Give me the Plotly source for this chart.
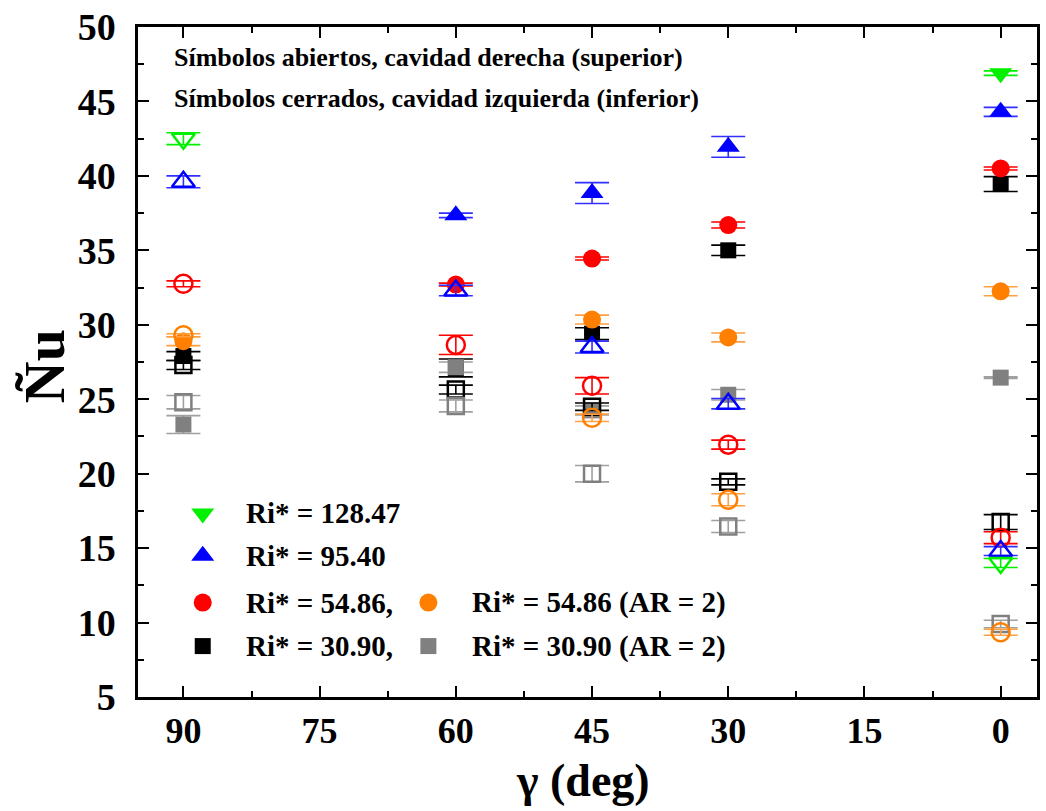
import plotly.graph_objects as go

# Inclination angle of the cavity (deg)
gamma = [90, 60, 45, 30, 0]

# Mean Nusselt number per case; None where no measurement was taken.
# "closed" = left (lower) cavity, "open" = right (upper) cavity.
nu_128_closed = [None, None, None, None, 46.9]
err_128_closed = [0, 0, 0, 0, 0.15]
nu_128_open = [42.5, None, None, None, 14.0]
err_128_open = [0.4, 0, 0, 0, 0.3]

nu_95_closed = [None, 37.35, 38.85, 41.95, 44.3]
err_95_closed = [0, 0.15, 0.7, 0.7, 0.3]
nu_95_open = [39.6, 32.3, 28.5, 24.7, 14.8]
err_95_open = [0.4, 0.35, 0.4, 0.35, 0.3]

nu_54_closed = [None, 32.7, 34.45, 36.7, 40.5]
err_54_closed = [0, 0.1, 0.1, 0.2, 0.1]
nu_54_open = [32.75, 28.65, 25.9, 21.95, 15.7]
err_54_open = [0.2, 0.65, 0.55, 0.3, 0.4]

nu_30_closed = [27.9, 27.1, 29.4, 35.0, 39.45]
err_30_closed = [0.3, 0.6, 0.4, 0.35, 0.5]
nu_30_open = [27.3, 25.65, 24.5, 19.45, 16.75]
err_30_open = [0.3, 0.3, 0.25, 0.2, 0.5]

nu_54ar_closed = [28.9, None, 30.35, 29.15, 32.25]
err_54ar_closed = [0.3, 0, 0.3, 0.3, 0.3]
nu_54ar_open = [29.3, None, 23.75, 18.25, 9.35]
err_54ar_open = [0.1, 0, 0.25, 0.4, 0.2]

nu_30ar_closed = [23.3, 27.15, 24.25, 25.3, 26.45]
err_30ar_closed = [0.6, 0.35, 0.3, 0.35, 0.05]
nu_30ar_open = [24.8, 24.55, 20.0, 16.45, 9.9]
err_30ar_open = [0.45, 0.4, 0.55, 0.4, 0.25]

legend_labels = ["Ri* = 128.47", "Ri* = 95.40", "Ri* = 54.86,", "Ri* = 30.90,",
                 "Ri* = 54.86 (AR = 2)", "Ri* = 30.90 (AR = 2)"]

FONT = "Liberation Serif"
GREEN, BLUE, RED, BLACK, ORANGE, GRAY = "#00f000", "#0000ff", "#ff0000", "#000000", "#ff8000", "#808080"

# (values, errors, colour, error colour, symbol, size) — filled symbols first,
# hollow ones on top so the error-bar stems show through them.
series = [
    (nu_30_closed, err_30_closed, BLACK, BLACK, "square", 16),
    (nu_30ar_closed, err_30ar_closed, GRAY, "#a0a0a0", "square", 16),
    (nu_54ar_closed, err_54ar_closed, ORANGE, "#ffa040", "circle", 18),
    (nu_54_closed, err_54_closed, RED, RED, "circle", 18),
    (nu_95_closed, err_95_closed, BLUE, "#3030ff", "triangle-up", 20),
    (nu_128_closed, err_128_closed, GREEN, GREEN, "triangle-down", 20),
    (nu_30_open, err_30_open, BLACK, BLACK, "square-open", 16),
    (nu_30ar_open, err_30ar_open, GRAY, "#a0a0a0", "square-open", 16),
    (nu_54ar_open, err_54ar_open, ORANGE, "#ffa040", "circle-open", 18),
    (nu_54_open, err_54_open, RED, RED, "circle-open", 18),
    (nu_95_open, err_95_open, BLUE, "#3030ff", "triangle-up-open", 20),
    (nu_128_open, err_128_open, GREEN, GREEN, "triangle-down-open", 20),
]

fig = go.Figure()

for vals, errs, col, ecol, sym, size in series:
    xs = [g for g, v in zip(gamma, vals) if v is not None]
    ys = [v for v in vals if v is not None]
    es = [e for v, e in zip(vals, errs) if v is not None]
    is_open = sym.endswith("open")
    fig.add_trace(go.Scatter(
        x=xs, y=ys, mode="markers", showlegend=False,
        marker=dict(symbol=sym, size=size, color=col,
                    line=dict(color=col, width=2.5 if is_open else 0)),
        error_y=dict(type="data", array=es, visible=True, color=ecol,
                     thickness=1.6, width=17),
    ))

# Custom two-column key drawn on an overlay axis spanning the plot area
key_items = [
    (0.072, 0.274, "triangle-down", GREEN, legend_labels[0], 0.1175),
    (0.072, 0.211, "triangle-up", BLUE, legend_labels[1], 0.1175),
    (0.072, 0.141, "circle", RED, legend_labels[2], 0.1175),
    (0.072, 0.076, "square", BLACK, legend_labels[3], 0.1175),
    (0.323, 0.141, "circle", ORANGE, legend_labels[4], 0.369),
    (0.323, 0.076, "square", GRAY, legend_labels[5], 0.369),
]
for kx, ky, sym, col, label, tx in key_items:
    size = 20 if sym.startswith("triangle") else (18 if sym == "circle" else 16)
    fig.add_trace(go.Scatter(
        x=[kx], y=[ky], xaxis="x2", yaxis="y2", mode="markers", showlegend=False,
        marker=dict(symbol=sym, size=size, color=col, line=dict(width=0)),
    ))
    fig.add_annotation(x=tx, y=ky, xref="paper", yref="paper", text=label,
                       showarrow=False, xanchor="left", yanchor="middle",
                       font=dict(family=FONT, size=29, color="black", weight="bold"))

fig.add_annotation(x=0.0377, y=0.955, xref="paper", yref="paper",
                   text="Símbolos abiertos, cavidad derecha (superior)",
                   showarrow=False, xanchor="left", yanchor="middle",
                   font=dict(family=FONT, size=26, color="black", weight="bold"))
fig.add_annotation(x=0.0377, y=0.893, xref="paper", yref="paper",
                   text="Símbolos cerrados, cavidad izquierda (inferior)",
                   showarrow=False, xanchor="left", yanchor="middle",
                   font=dict(family=FONT, size=26, color="black", weight="bold"))

# Axis titles
fig.add_annotation(x=-0.104, y=0.493, xref="paper", yref="paper", text="Ñu",
                   textangle=-90, showarrow=False, xanchor="center", yanchor="middle",
                   font=dict(family=FONT, size=58, color="black", weight="bold"))
fig.add_annotation(x=0.4945, y=-0.124, xref="paper", yref="paper", text="γ (deg)",
                   showarrow=False, xanchor="center", yanchor="middle",
                   font=dict(family=FONT, size=46, color="black", weight="bold"))

axis_common = dict(
    showgrid=False, zeroline=False, showline=True, linecolor="black", linewidth=2.5,
    mirror="ticks", ticks="inside", tickcolor="black", tickwidth=2,
)

fig.update_layout(
    width=1046, height=811,
    margin=dict(l=138, r=6, t=25, b=114),
    paper_bgcolor="white", plot_bgcolor="white",
    xaxis=dict(range=[95, -4], tickmode="array", tickvals=[90, 75, 60, 45, 30, 15, 0],
               ticklen=11, ticklabelstandoff=0,
               tickfont=dict(family=FONT, size=36, color="black", weight="bold"),
               minor=dict(dtick=7.5, tick0=0, ticklen=6, ticks="inside",
                          tickcolor="black", tickwidth=2),
               **axis_common),
    yaxis=dict(range=[5, 50], tickmode="array",
               tickvals=[5, 10, 15, 20, 25, 30, 35, 40, 45, 50],
               ticklen=11, ticklabelstandoff=12,
               tickfont=dict(family=FONT, size=38, color="black", weight="bold"),
               minor=dict(dtick=2.5, tick0=0, ticklen=6, ticks="inside",
                          tickcolor="black", tickwidth=2),
               **axis_common),
    xaxis2=dict(overlaying="x", range=[0, 1], visible=False, domain=[0, 1]),
    yaxis2=dict(overlaying="y", range=[0, 1], visible=False, domain=[0, 1]),
)

fig.write_html("out.html")
